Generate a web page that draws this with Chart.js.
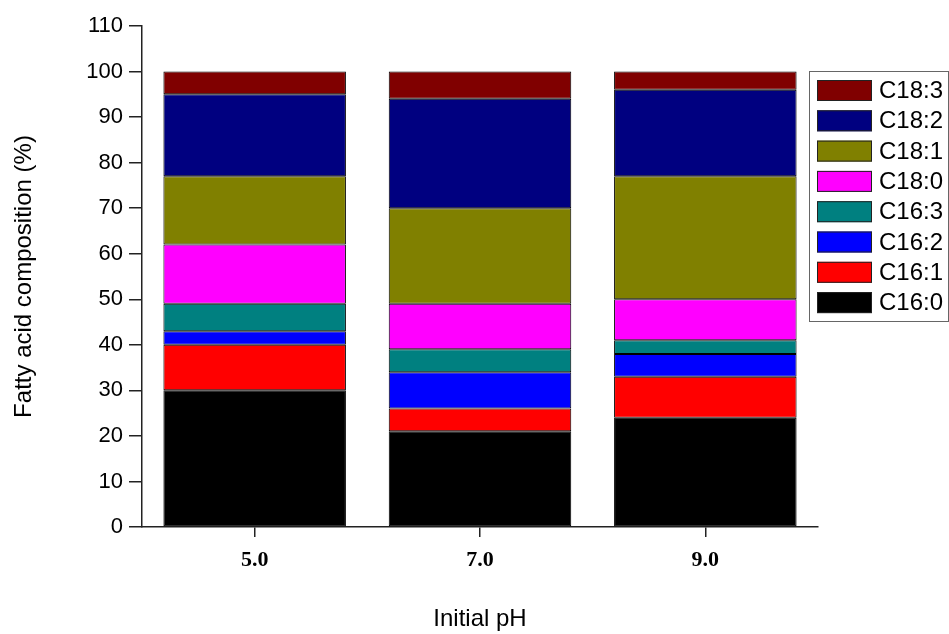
<!DOCTYPE html>
<html>
<head>
<meta charset="utf-8">
<script src="https://cdn.jsdelivr.net/npm/chart.js@4/dist/chart.umd.min.js"></script>
<style>
  html, body { margin: 0; padding: 0; background: #fff; }
  #wrap { width: 949px; height: 634px; }
</style>
</head>
<body>
<div id="wrap"><canvas id="chart" width="949" height="634"></canvas></div>
<script>
// Categorias (pH inicial)
const phLabels = ['5.0', '7.0', '9.0'];

// Composicao de acidos graxos (%) por pH, de baixo para cima na pilha
const c160 = [30, 21, 24];
const c161 = [10, 5, 9];
const c162 = [3, 8, 5];
const c163 = [6, 5, 3];
const c180 = [13, 10, 9];
const c181 = [15, 21, 27];
const c182 = [18, 24, 19];
const c183 = [5, 6, 4];

const yTicksMax = 110;
const yStep = 10;

const SANS = '"Liberation Sans", Arial, sans-serif';
const SERIF = '"Liberation Serif", "Times New Roman", serif';

function mkSet(label, data, color) {
    return {
        label: label,
        data: data,
        backgroundColor: color,
        borderColor: '#000',
        borderWidth: 1,
        borderSkipped: false,
        categoryPercentage: 1.0,
        barPercentage: 0.81
    };
}

// Legenda desenhada a mao (caixa a direita, ordem invertida)
const boxLegend = {
    id: 'boxLegend',
    afterDraw(chart) {
        const ctx = chart.ctx;
        const sets = chart.data.datasets;
        const x0 = chart.chartArea.right - 9;
        const y0 = 71;
        ctx.save();
        ctx.strokeStyle = '#666';
        ctx.lineWidth = 1;
        ctx.strokeRect(x0 + 0.5, y0 + 0.5, 139, 250);
        ctx.font = '24px ' + SANS;
        ctx.textBaseline = 'middle';
        ctx.textAlign = 'left';
        for (let i = 0; i < sets.length; i++) {
            const ds = sets[sets.length - 1 - i];
            const y = y0 + 9 + i * 30.3;
            ctx.fillStyle = ds.backgroundColor;
            ctx.fillRect(x0 + 8, y, 55, 21);
            ctx.strokeStyle = '#222';
            ctx.strokeRect(x0 + 8.5, y + 0.5, 54, 20);
            ctx.fillStyle = '#000';
            ctx.fillText(ds.label, x0 + 70, y + 11.5);
        }
        ctx.restore();
    }
};

const ctx = document.getElementById('chart').getContext('2d');
new Chart(ctx, {
    type: 'bar',
    data: {
        labels: phLabels,
        datasets: [
            mkSet('C16:0', c160, '#000000'),
            mkSet('C16:1', c161, '#FF0000'),
            mkSet('C16:2', c162, '#0000FF'),
            mkSet('C16:3', c163, '#008080'),
            mkSet('C18:0', c180, '#FF00FF'),
            mkSet('C18:1', c181, '#808000'),
            mkSet('C18:2', c182, '#000080'),
            mkSet('C18:3', c183, '#800000')
        ]
    },
    options: {
        responsive: false,
        animation: false,
        layout: { padding: { top: 26, right: 131, bottom: 0, left: 0 } },
        plugins: {
            legend: { display: false },
            tooltip: { enabled: false }
        },
        scales: {
            x: {
                stacked: true,
                offset: true,
                grid: {
                    offset: false,
                    drawOnChartArea: false,
                    color: '#222',
                    tickLength: 10,
                    lineWidth: 1.5
                },
                border: { display: true, color: '#222', width: 1.5 },
                ticks: {
                    color: '#000',
                    padding: 10,
                    font: { family: SERIF, size: 22, weight: 'bold' }
                },
                title: {
                    display: true,
                    text: 'Initial pH',
                    color: '#000',
                    padding: { top: 0, bottom: 0 },
                    font: { family: SANS, size: 24 }
                },
                afterFit(scale) { scale.height = 107; }
            },
            y: {
                stacked: true,
                min: 0,
                max: yTicksMax,
                grid: {
                    drawOnChartArea: false,
                    color: '#222',
                    tickLength: 13,
                    lineWidth: 1.5
                },
                border: { display: true, color: '#222', width: 1.5 },
                ticks: {
                    stepSize: yStep,
                    color: '#000',
                    padding: 6,
                    font: { family: SANS, size: 22 }
                },
                title: {
                    display: true,
                    text: 'Fatty acid composition (%)',
                    color: '#000',
                    padding: { top: 10, bottom: 0 },
                    font: { family: SANS, size: 24 }
                },
                afterFit(scale) { scale.width = 142; }
            }
        }
    },
    plugins: [boxLegend]
});
</script>
</body>
</html>
